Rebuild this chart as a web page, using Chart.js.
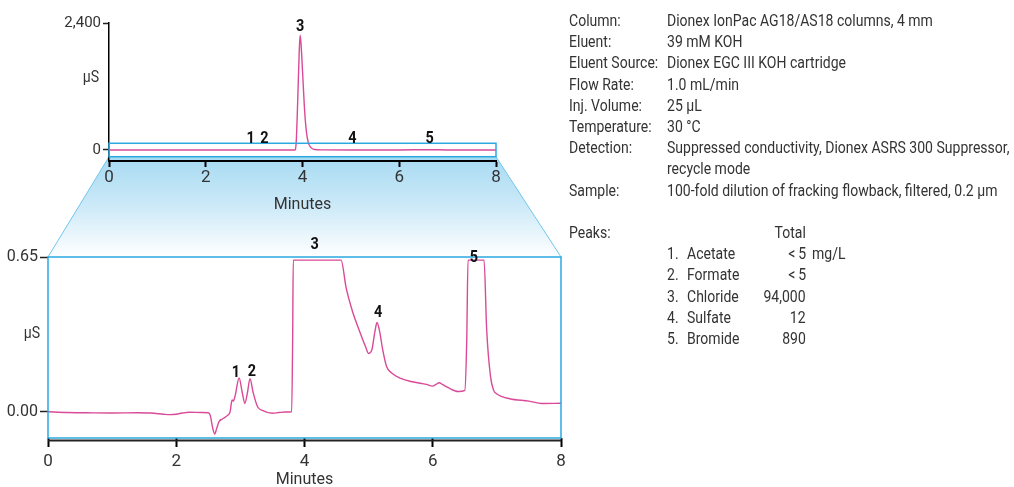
<!DOCTYPE html>
<html>
<head>
<meta charset="utf-8">
<script src="https://cdn.jsdelivr.net/npm/chart.js@4.4.1/dist/chart.umd.min.js"></script>
<style>
  html, body { margin:0; padding:0; background:#fff; }
  #wrap { position:relative; width:1014px; height:487px; overflow:hidden; }
  canvas { position:absolute; }
  #info { position:absolute; left:0; top:0; width:1014px; height:487px; font-family:'Roboto','Liberation Sans',sans-serif; font-size:16.5px; color:#333; }
  #info span { position:absolute; white-space:nowrap; line-height:20px; transform:scaleX(0.85); transform-origin:0 50%; }
  #info span.r { transform-origin:100% 50%; }
</style>
</head>
<body>
<div id="wrap">
  <canvas id="bg" width="1014" height="487" style="left:0;top:0"></canvas>
  <canvas id="topC" width="560" height="215" style="left:0;top:0"></canvas>
  <canvas id="botC" width="600" height="257" style="left:0;top:230px"></canvas>
  <div id="info"></div>
</div>
<script>
// ---------- DATA ----------
// Overview chromatogram (full scale, µS)
const topTimes  = [0, 1, 2, 3, 3.5, 3.84, 3.87, 3.9, 3.93, 3.95, 3.97, 4.0, 4.04, 4.08, 4.12, 4.17, 4.25, 4.4, 5, 6, 6.6, 7, 8];
const topValues = [0, 0, 0, 0, 0,   0,   150,  900, 1800, 2170, 2000, 1500, 800, 350, 140, 50, 10, 2, 1, 1, 6, 1, 1];
const topYTicks = [0, 2400];
const topXTicks = [0, 2, 4, 6, 8];
const topYRange = [-208, 2400];
const zoomBoxX = [0, 8];
const zoomBoxY = [-127, 127];

// Expanded view chromatogram (µS)
const botTimes  = [0, 0.3, 0.6, 1.0, 1.4, 1.6, 1.8, 1.9, 2.0, 2.1, 2.2, 2.4, 2.5, 2.53, 2.57, 2.6, 2.63, 2.67, 2.72, 2.8, 2.84, 2.87, 2.89, 2.92, 2.98, 3.03, 3.07, 3.11, 3.15, 3.2, 3.27, 3.35, 3.5, 3.6, 3.7, 3.8, 3.815, 3.825, 4.57, 4.65, 4.75, 4.85, 4.95, 5.0, 5.05, 5.1, 5.13, 5.17, 5.22, 5.28, 5.35, 5.5, 5.7, 5.9, 6.0, 6.05, 6.1, 6.15, 6.25, 6.4, 6.5, 6.53, 6.55, 6.8, 6.84, 6.9, 6.95, 7.0, 7.2, 7.5, 7.7, 8.0];
const botValues = [0.000, -0.003, -0.004, -0.005, -0.004, -0.005, -0.010, -0.012, -0.010, -0.005, -0.002, -0.003, -0.004, -0.015, -0.070, -0.093, -0.070, -0.040, -0.030, -0.015, 0.000, 0.050, 0.045, 0.070, 0.142, 0.080, 0.035, 0.080, 0.139, 0.080, 0.020, 0.005, -0.006, -0.003, -0.001, 0.000, 0.300, 0.637, 0.637, 0.520, 0.420, 0.345, 0.275, 0.245, 0.260, 0.340, 0.375, 0.340, 0.260, 0.190, 0.165, 0.140, 0.125, 0.115, 0.108, 0.115, 0.122, 0.115, 0.100, 0.085, 0.090, 0.300, 0.637, 0.637, 0.350, 0.150, 0.090, 0.075, 0.055, 0.045, 0.035, 0.036];
const botYTicks = [0, 0.65];
const botXTicks = [0, 2, 4, 6, 8];
const botYRange = [-0.11, 0.65];

// Peak labels
const peakNums = ['1', '2', '3', '4', '5'];
const topLabelTimes  = [2.93, 3.21, 3.95, 5.03, 6.63];
const topLabelValues = [210, 210, 2330, 210, 210];
const botLabelTimes  = [2.93, 3.18, 4.16, 5.15, 6.64];
const botLabelValues = [0.166, 0.170, 0.702, 0.417, 0.648];

// Conditions text
const condLabels = ['Column:', 'Eluent:', 'Eluent Source:', 'Flow Rate:', 'Inj. Volume:', 'Temperature:', 'Detection:', '', 'Sample:'];
const condValues = ['Dionex IonPac AG18/AS18 columns, 4 mm', '39 mM KOH', 'Dionex EGC III KOH cartridge', '1.0 mL/min', '25 µL', '30 °C', 'Suppressed conductivity, Dionex ASRS 300 Suppressor,', 'recycle mode', '100-fold dilution of fracking flowback, filtered, 0.2 µm'];
const peakNames  = ['Acetate', 'Formate', 'Chloride', 'Sulfate', 'Bromide'];
const peakTotals = ['<\u20095', '<\u20095', '94,000', '12', '890'];
const totalUnit = 'mg/L';

// ---------- STYLE ----------
const FONT = "'Roboto','Liberation Sans',sans-serif";
const TRACE = '#d94a98';
const BLUE = '#2aa9e0';
const TXT = '#333333';

const toXY = (ts, vs) => ts.map((t, i) => ({x: t, y: vs[i]}));

const peakLabelPlugin = {
  id: 'peakLabels',
  afterDraw(chart, args, opts) {
    const ctx = chart.ctx, xs = chart.scales.x, ys = chart.scales.y;
    ctx.save();
    ctx.font = 'bold 17px ' + FONT;
    ctx.fillStyle = '#111';
    ctx.textAlign = 'center';
    ctx.textBaseline = 'middle';
    opts.times.forEach((t, i) => {
      const px = xs.getPixelForValue(t), py = ys.getPixelForValue(opts.values[i]);
      ctx.save();
      ctx.translate(px, py);
      ctx.scale(0.85, 1);
      ctx.fillText(peakNums[i], 0, 0);
      ctx.restore();
    });
    ctx.restore();
  }
};

const unitPlugin = {
  id: 'unitLabel',
  afterDraw(chart, args, opts) {
    const ctx = chart.ctx, a = chart.chartArea, ys = chart.scales.y;
    ctx.save();
    ctx.font = opts.size + 'px ' + FONT;
    ctx.fillStyle = TXT;
    ctx.textAlign = 'center';
    ctx.textBaseline = 'middle';
    const y = a.top + (ys.getPixelForValue(0) - a.top) * opts.frac;
    ctx.translate(a.left - opts.dx, y);
    ctx.scale(0.88, 1);
    ctx.fillText('µS', 0, 0);
    ctx.restore();
  }
};

const zoomRectPlugin = {
  id: 'zoomRect',
  afterDatasetsDraw(chart) {
    const ctx = chart.ctx, xs = chart.scales.x, ys = chart.scales.y;
    const x0 = xs.getPixelForValue(zoomBoxX[0]), x1 = xs.getPixelForValue(zoomBoxX[1]);
    const y0 = ys.getPixelForValue(zoomBoxY[1]), y1 = ys.getPixelForValue(zoomBoxY[0]);
    ctx.save();
    ctx.strokeStyle = BLUE; ctx.lineWidth = 1.5;
    ctx.strokeRect(x0, y0, x1 - x0, y1 - y0);
    ctx.restore();
  }
};

const boxPlugin = {
  id: 'boxFrame',
  afterDraw(chart) {
    const ctx = chart.ctx, a = chart.chartArea;
    ctx.save();
    ctx.strokeStyle = '#222'; ctx.lineWidth = 2;
    ctx.beginPath(); ctx.moveTo(a.left, a.bottom + 2.5); ctx.lineTo(a.right, a.bottom + 2.5); ctx.stroke();
    ctx.strokeStyle = BLUE; ctx.lineWidth = 1.5;
    ctx.strokeRect(a.left, a.top, a.right - a.left, a.bottom - a.top);
    ctx.restore();
  }
};

function makeChart(id, cfg) {
  return new Chart(document.getElementById(id), {
    type: 'line',
    data: { datasets: [{ data: cfg.data, borderColor: TRACE, borderWidth: 1.4, pointRadius: 0, cubicInterpolationMode: 'monotone', fill: false }] },
    options: {
      responsive: false, animation: false, devicePixelRatio: 1,
      layout: { padding: { top: cfg.padTop, right: cfg.padRight, left: 0, bottom: 0 } },
      plugins: { legend: { display: false }, tooltip: { enabled: false },
                 peakLabels: { times: cfg.lt, values: cfg.lv },
                 unitLabel: cfg.unit },
      scales: {
        x: {
          type: 'linear', min: 0, max: 8,
          afterBuildTicks: s => { s.ticks = cfg.xTicks.map(v => ({value: v})); },
          afterFit: s => { s.height = cfg.xHeight; },
          ticks: { font: { family: FONT, size: cfg.xFont }, color: TXT, padding: cfg.xPad, maxRotation: 0 },
          grid: { drawOnChartArea: false, drawTicks: true, tickLength: cfg.xTickLen, tickColor: '#000', tickWidth: 2 },
          border: { display: cfg.xBorder, color: '#000', width: 2 },
          title: { display: true, text: 'Minutes', font: { family: FONT, size: 16, lineHeight: cfg.tLH }, color: TXT, padding: { top: 1, bottom: 0 } }
        },
        y: {
          type: 'linear', min: cfg.yRange[0], max: cfg.yRange[1],
          afterBuildTicks: s => { s.ticks = cfg.yTicks.map(v => ({value: v})); },
          afterFit: s => { s.width = cfg.yWidth; },
          ticks: { font: { family: FONT, size: cfg.yFont }, color: TXT, padding: 2, callback: cfg.yFmt },
          grid: { drawOnChartArea: false, drawTicks: true, tickLength: cfg.yTickLen, tickColor: '#222', tickWidth: 1.5 },
          border: { display: cfg.yBorder, color: '#000', width: 1.5 }
        }
      }
    },
    plugins: cfg.plugins
  });
}

const topChart = makeChart('topC', {
  data: toXY(topTimes, topValues), padTop: 23, padRight: 560 - 496,
  lt: topLabelTimes, lv: topLabelValues, unit: { size: 16, dx: 18, frac: 0.43 },
  xTicks: topXTicks, yTicks: topYTicks, yRange: topYRange,
  xHeight: 215 - 161, yWidth: 109, xFont: 17, yFont: 15, xTickLen: 6, yTickLen: 6, xPad: 1, tLH: 1.2,
  xBorder: true, yBorder: true,
  yFmt: v => Number(v).toLocaleString('en-US'),
  plugins: [zoomRectPlugin, peakLabelPlugin, unitPlugin]
});

const botChart = makeChart('botC', {
  data: toXY(botTimes, botValues), padTop: 27, padRight: 600 - 561,
  lt: botLabelTimes, lv: botLabelValues, unit: { size: 16, dx: 16, frac: 0.5 },
  xTicks: botXTicks, yTicks: botYTicks, yRange: botYRange,
  xHeight: 257 - 208, yWidth: 48, xFont: 17, yFont: 16, xTickLen: 9, yTickLen: 8, xPad: 5, tLH: 0.9,
  xBorder: false, yBorder: false,
  yFmt: v => Number(v).toFixed(2),
  plugins: [boxPlugin, peakLabelPlugin, unitPlugin]
});

// ---------- zoom trapezoid (behind charts) ----------
(function drawTrapezoid() {
  const ctx = document.getElementById('bg').getContext('2d');
  const xs = topChart.scales.x, ys = topChart.scales.y;
  const tl = { x: xs.getPixelForValue(zoomBoxX[0]), y: ys.getPixelForValue(zoomBoxY[0]) };
  const tr = { x: xs.getPixelForValue(zoomBoxX[1]), y: tl.y };
  const offY = 230;
  const a = botChart.chartArea;
  const bl = { x: a.left, y: a.top + offY }, br = { x: a.right, y: a.top + offY };
  const g = ctx.createLinearGradient(0, tl.y, 0, bl.y);
  g.addColorStop(0, '#a7daf2');
  g.addColorStop(0.5, '#cdeaf8');
  g.addColorStop(1, '#ffffff');
  ctx.fillStyle = g;
  ctx.beginPath();
  ctx.moveTo(tl.x, tl.y); ctx.lineTo(tr.x, tr.y); ctx.lineTo(br.x, br.y); ctx.lineTo(bl.x, bl.y); ctx.closePath();
  ctx.fill();
  ctx.strokeStyle = '#6fc6ee'; ctx.lineWidth = 1;
  ctx.beginPath(); ctx.moveTo(tl.x, tl.y); ctx.lineTo(bl.x, bl.y); ctx.stroke();
  ctx.beginPath(); ctx.moveTo(tr.x, tr.y); ctx.lineTo(br.x, br.y); ctx.stroke();
})();

// ---------- conditions text ----------
(function buildInfo() {
  const info = document.getElementById('info');
  const LH = 21.2, Y0 = 11, XL = 569, XV = 667;
  const add = (txt, x, y, align) => {
    const s = document.createElement('span');
    s.textContent = txt;
    s.style.top = y + 'px';
    if (align === 'right') { s.className = 'r'; s.style.right = (1014 - x) + 'px'; } else { s.style.left = x + 'px'; }
    info.appendChild(s);
  };
  condLabels.forEach((l, i) => { if (l) add(l, XL, Y0 + i * LH); add(condValues[i], XV, Y0 + i * LH); });
  const pr = 10;
  add('Peaks:', XL, Y0 + pr * LH);
  add('Total', 806, Y0 + pr * LH, 'right');
  peakNames.forEach((n, i) => {
    const y = Y0 + (pr + 1 + i) * LH;
    add((i + 1) + '.', XV, y);
    add(n, 687, y);
    add(peakTotals[i], 806, y, 'right');
    if (i === 0) add(totalUnit, 812, y);
  });
})();
</script>
</body>
</html>
